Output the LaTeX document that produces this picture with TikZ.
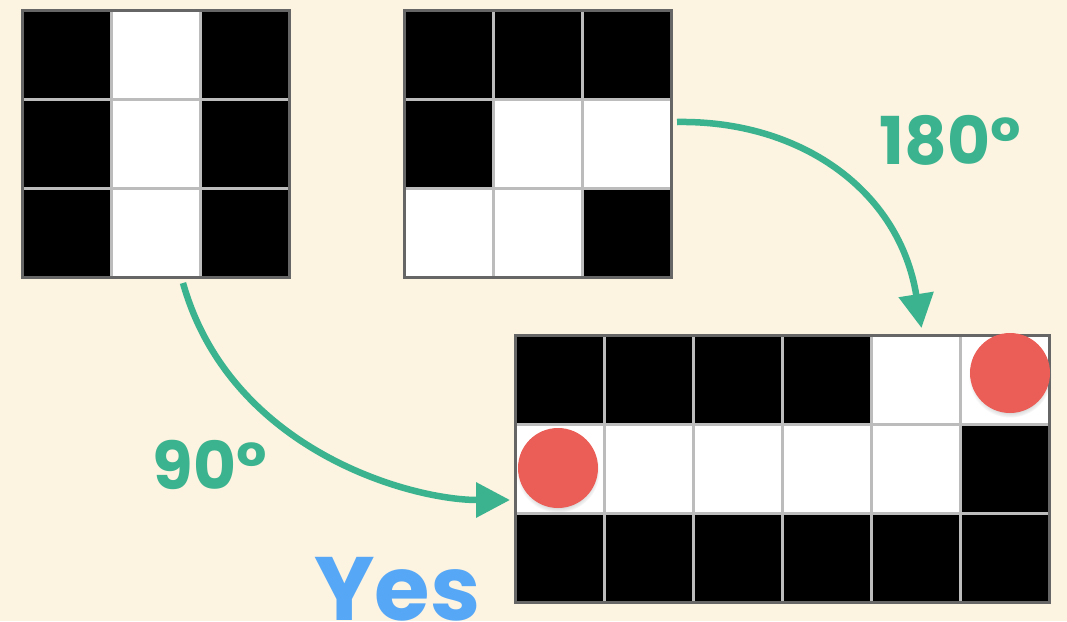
\documentclass[tikz,border=0pt]{standalone}
\usepackage{fontspec}
\setmainfont{Poppins}
\usetikzlibrary{arrows.meta, positioning, shadows}
\definecolor{BG}{RGB}{253,243,225}
\definecolor{CG}{RGB}{58,179,142}
\definecolor{CR}{RGB}{235,94,87}
\definecolor{CB}{RGB}{86,168,247}
\definecolor{LGr}{RGB}{188,188,188}
\definecolor{DG}{RGB}{102,102,102}

\begin{document}
\begin{tikzpicture}[x=1pt, y=-1pt,
  frame/.style={draw=DG, line width=3pt, inner sep=0pt, outer sep=0pt,
                minimum height=267pt},
  sep/.style={draw=LGr, line width=3pt},
  dot/.style={circle, fill=CR, minimum size=80pt, inner sep=0pt,
              circular drop shadow={shadow xshift=0pt, shadow yshift=-3pt,
                                    shadow scale=1.04, opacity=0.35}},
  arr/.style={-{Triangle[length=34pt,width=34pt]}, line width=6.5pt, draw=CG},
  deg/.style={text=CG, inner sep=0pt, font=\fontsize{66}{66}\selectfont\bfseries},
  yes/.style={text=CB, inner sep=0pt, font=\fontsize{90}{90}\selectfont\bfseries}
]
\useasboundingbox (0,0) rectangle (1067,621);
\fill[BG] (0,0) rectangle (1067,621);

% left pattern
\fill[white] (22,10) rectangle ++(267,267);
\foreach \c/\r in {0/0,2/0,0/1,2/1,0/2,2/2}
  \fill[black] (22+\c*89,10+\r*89) rectangle ++(89,89);
\foreach \k in {1,2} {
  \draw[sep] (22+\k*89,10) -- ++(0,267);
  \draw[sep] (22,10+\k*89) -- ++(267,0);
}
\node[frame, minimum width=267pt] (g1) at (155.5,143.5) {};

% middle pattern
\fill[white] (404,10) rectangle ++(267,267);
\foreach \c/\r in {0/0,1/0,2/0,0/1,2/2}
  \fill[black] (404+\c*89,10+\r*89) rectangle ++(89,89);
\foreach \k in {1,2} {
  \draw[sep] (404+\k*89,10) -- ++(0,267);
  \draw[sep] (404,10+\k*89) -- ++(267,0);
}
\node[frame, minimum width=267pt] (g2) at (537.5,143.5) {};

% wide pattern
\fill[white] (515,335) rectangle ++(534,267);
\foreach \c/\r in {0/0,1/0,2/0,3/0,5/1,0/2,1/2,2/2,3/2,4/2,5/2}
  \fill[black] (515+\c*89,335+\r*89) rectangle ++(89,89);
\foreach \k in {1,...,5}
  \draw[sep] (515+\k*89,335) -- ++(0,267);
\foreach \k in {1,2}
  \draw[sep] (515,335+\k*89) -- ++(534,0);
\node[frame, minimum width=534pt] (g3) at (782,468.5) {};

\node[dot] (d1) at (1010,373) {};
\node[dot] (d2) at (558,468) {};

\draw[arr] ([xshift=27.5pt,yshift=-6pt]g1.south)
  .. controls +(47,167) and +(-100,0) .. ([xshift=-5pt,yshift=-31.5pt]g3.west);
\draw[arr] ([xshift=6pt,yshift=21.5pt]g2.east)
  .. controls +(123,-2) and +(-22,-138) .. ([xshift=139.5pt,yshift=7pt]g3.north);

\node[deg] (l180) at (950,140) {180°};
\node[deg] (l90) at (210,465) {90°};
\node[yes, anchor=base west] (yes) at (314,620) {Yes};
\end{tikzpicture}
\end{document}
